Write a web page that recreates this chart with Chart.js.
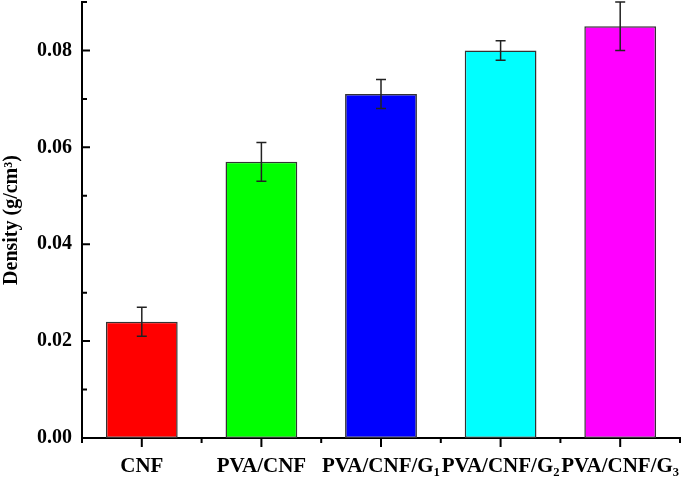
<!DOCTYPE html>
<html>
<head>
<meta charset="utf-8">
<script src="https://cdn.jsdelivr.net/npm/chart.js@4/dist/chart.umd.min.js"></script>
<style>
  body { margin: 0; background: #fff; }
  #wrap { width: 685px; height: 490px; }
</style>
</head>
<body>
<div id="wrap"><canvas id="density-graph"></canvas></div>
<script>
const samples = ['CNF', 'PVA/CNF', 'PVA/CNF/G\u2081', 'PVA/CNF/G\u2082', 'PVA/CNF/G\u2083'];
const density = [0.024, 0.057, 0.071, 0.080, 0.085];
const densityErr = [0.003, 0.004, 0.003, 0.002, 0.005];
const barColors = ['#ff0000', '#00ff00', '#0000ff', '#00ffff', '#ff00ff'];

const errorBars = { // draws the error whiskers on top of each bar
    id: 'errorBars',
    afterDatasetsDraw(chart) {
        const ctx = chart.ctx;
        const y = chart.scales.y;
        const meta = chart.getDatasetMeta(0);
        ctx.save();
        ctx.strokeStyle = '#222';
        ctx.lineWidth = 1.5;
        meta.data.forEach((bar, i) => {
            const top = y.getPixelForValue(density[i] + densityErr[i]);
            const bottom = y.getPixelForValue(density[i] - densityErr[i]);
            ctx.beginPath();
            ctx.moveTo(bar.x, top);
            ctx.lineTo(bar.x, bottom);
            ctx.moveTo(bar.x - 5, top);
            ctx.lineTo(bar.x + 5, top);
            ctx.moveTo(bar.x - 5, bottom);
            ctx.lineTo(bar.x + 5, bottom);
            ctx.stroke();
        });
        ctx.restore();
    }
};

const axisTicks = { // y ticks point inward, x ticks point outward
    id: 'axisTicks',
    afterDraw(chart) {
        const ctx = chart.ctx;
        const x = chart.scales.x;
        const y = chart.scales.y;
        ctx.save();
        ctx.strokeStyle = '#000';
        ctx.lineWidth = 2;
        ctx.beginPath();
        y.ticks.forEach(t => {
            const py = y.getPixelForValue(t.value);
            const len = Math.round(t.value * 100) % 2 === 0 ? 8 : 5;
            ctx.moveTo(x.left, py);
            ctx.lineTo(x.left + len, py);
        });
        for (let i = 0; i < samples.length; i++) {
            const px = x.getPixelForValue(i);
            ctx.moveTo(px, y.bottom);
            ctx.lineTo(px, y.bottom + 9);
        }
        for (let i = 0; i <= samples.length; i++) {
            const px = x.getPixelForValue(i - 0.5);
            ctx.moveTo(px, y.bottom);
            ctx.lineTo(px, y.bottom + 5);
        }
        ctx.stroke();
        ctx.restore();
    }
};

const ctx = document.getElementById('density-graph').getContext('2d');
new Chart(ctx, {
    type: 'bar',
    data: {
        labels: samples,
        datasets: [{
            label: 'Density',
            data: density,
            backgroundColor: barColors,
            borderColor: '#333',
            borderWidth: 1.5,
            borderSkipped: false,
            barPercentage: 0.6,
            categoryPercentage: 1
        }]
    },
    options: {
        responsive: true,
        maintainAspectRatio: false,
        animation: false,
        layout: { padding: { left: 0, right: 5, top: 2, bottom: 0 } },
        plugins: {
            legend: { display: false },
            tooltip: { enabled: false }
        },
        scales: {
            x: {
                grid: { display: false },
                border: { display: true, color: '#000', width: 2 },
                ticks: {
                    color: '#000',
                    font: { family: 'Liberation Serif', size: 21, weight: 'bold' },
                    maxRotation: 0,
                    minRotation: 0,
                    autoSkip: false,
                    padding: 8
                },
                afterFit: s => { s.height = 52; s.paddingLeft = 0; s.paddingRight = 0; }
            },
            y: {
                min: 0,
                max: 0.09,
                grid: { display: false },
                border: { display: true, color: '#000', width: 2 },
                ticks: {
                    stepSize: 0.01,
                    color: '#000',
                    font: { family: 'Liberation Serif', size: 20, weight: 'bold' },
                    padding: 2,
                    callback: v => Math.round(v * 100) % 2 === 0 ? v.toFixed(2) : ''
                },
                title: {
                    display: true,
                    text: 'Density (g/cm\u00b3)',
                    color: '#000',
                    font: { family: 'Liberation Serif', size: 20, weight: 'bold' },
                    padding: { top: 0, bottom: 2 }
                },
                afterFit: s => { s.width = 82; s.paddingTop = 0; s.paddingBottom = 0; }
            }
        }
    },
    plugins: [errorBars, axisTicks]
});
</script>
</body>
</html>
